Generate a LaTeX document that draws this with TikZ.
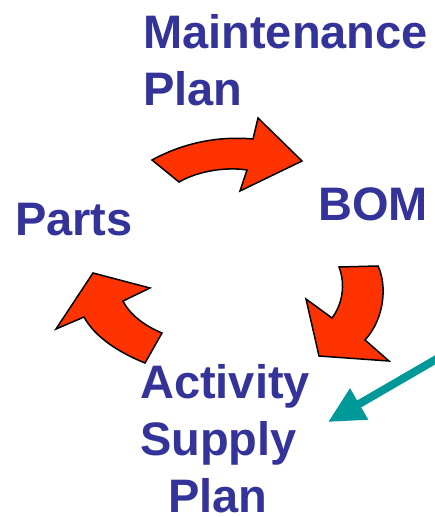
\documentclass[tikz,border=0pt]{standalone}
\usepackage{fontspec}
\setmainfont{Liberation Sans}
\usetikzlibrary{arrows.meta}
\definecolor{labelblue}{RGB}{51,51,153}
\definecolor{arrowred}{RGB}{255,51,0}
\definecolor{pointerteal}{RGB}{0,153,153}
\tikzset{
    labeltext/.style={text=labelblue, font=\bfseries\fontsize{47}{57}\selectfont, inner sep=0pt, align=left},
    cyclearrow/.style={fill=arrowred, draw=black, line width=1.5pt, line join=miter}
}
\begin{document}
\begin{tikzpicture}[x=1pt, y=-1pt]
        \useasboundingbox (0,0) rectangle (435,517);
        % labels (base anchor = last line)
        \node[labeltext, anchor=base west] (plan) at (143,105) {Maintenance\\Plan};
        \node[labeltext, anchor=base west] (bom) at (318,220) {BOM};
        \node[labeltext, anchor=base west] (parts) at (15,235) {Parts};
        \node[labeltext, anchor=base west] (supply) at (140,512) {Activity\\Supply\\\hspace*{28pt}Plan};
        % cycle arrows
        \draw[cyclearrow] (152,160) .. controls (185,142) and (220,136) .. (253,139) -- (258,118) -- (302,161) -- (240,191) -- (247,170) .. controls (228,167) and (200,170) .. (179,182) -- cycle;
        \draw[cyclearrow] (339,267) -- (378,266) .. controls (387,285) and (385,318) .. (365,340) -- (389,361) -- (319,356) -- (306,299) -- (332,318) .. controls (342,305) and (346,285) .. (339,267) -- cycle;
        \draw[cyclearrow] (93,273) -- (150,288) -- (123,301) .. controls (130,315) and (145,326) .. (162,333) -- (145,363) .. controls (118,352) and (95,337) .. (84,317) -- (56,329) -- cycle;
        % pointer
        \coordinate (pointfrom) at (447,353);
        \coordinate (pointto) at (328,422);
        \draw[pointerteal, line width=8pt, -{Triangle[length=36pt, width=34pt]}] (pointfrom) -- (pointto);
\end{tikzpicture}
\end{document}
